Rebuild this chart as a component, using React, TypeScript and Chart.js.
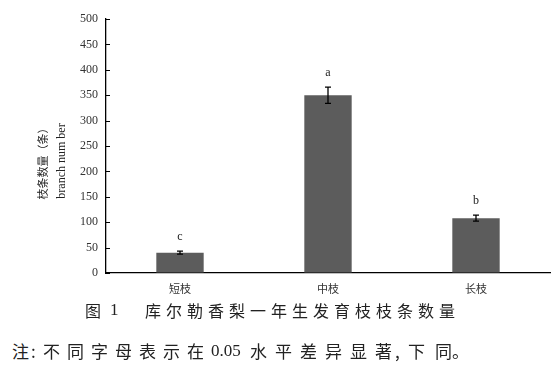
import React, { useEffect, useRef } from "react";
import { Chart, registerables } from "chart.js";

Chart.register(...registerables);

const categories = ["短枝", "中枝", "长枝"];
const means = [40, 350, 108];
const errors = [3, 16, 6];
const letters = ["c", "a", "b"];
const yTicks = [0, 50, 100, 150, 200, 250, 300, 350, 400, 450, 500];
const yTitleCn = "枝条数量（条）";
const yTitleEn = "branch num ber";
const captionLabel = "图";
const captionNum = "1";
const captionMain = "库尔勒香梨一年生发育枝枝条数量";
const noteParts = ["注", ":", "不同字母表示在", "0.05", "水平差异显著", ",", "下同", "。"];

const extrasPlugin = {
  id: "extras",
  afterDatasetsDraw(chart: any) {
    const ctx = chart.ctx;
    const x = chart.scales.x;
    const y = chart.scales.y;
    const area = chart.chartArea;
    ctx.save();
    ctx.strokeStyle = "#000";
    ctx.lineWidth = 1;
    yTicks.forEach((v) => {
      const py = Math.round(y.getPixelForValue(v)) + 0.5;
      ctx.beginPath();
      ctx.moveTo(area.left, py);
      ctx.lineTo(area.left + 4, py);
      ctx.stroke();
    });
    means.forEach((m, i) => {
      const cx = x.getPixelForValue(i);
      const top = y.getPixelForValue(m + errors[i]);
      const bot = y.getPixelForValue(m - errors[i]);
      ctx.strokeStyle = "#000";
      ctx.lineWidth = 1.3;
      ctx.beginPath();
      ctx.moveTo(cx, top);
      ctx.lineTo(cx, bot);
      ctx.moveTo(cx - 3, top);
      ctx.lineTo(cx + 3, top);
      ctx.moveTo(cx - 3, bot);
      ctx.lineTo(cx + 3, bot);
      ctx.stroke();
      ctx.fillStyle = "#222";
      ctx.font = "12px 'Liberation Serif'";
      ctx.textAlign = "center";
      ctx.textBaseline = "middle";
      ctx.fillText(letters[i], cx, top - 14);
    });
    const cy = (area.top + area.bottom) / 2 + 15;
    ctx.fillStyle = "#222";
    ctx.translate(43, cy);
    ctx.rotate(-Math.PI / 2);
    ctx.font = "11px 'Noto Sans CJK SC'";
    ctx.textAlign = "center";
    ctx.textBaseline = "middle";
    ctx.fillText(yTitleCn, 0, 0);
    ctx.font = "12px 'Liberation Serif'";
    ctx.fillText(yTitleEn, 0, 19);
    ctx.restore();
  },
};

export default function App() {
  const ref = useRef<HTMLCanvasElement | null>(null);
  useEffect(() => {
    if (!ref.current) return;
    const chart = new Chart(ref.current, {
      type: "bar",
      data: {
        labels: categories,
        datasets: [
          {
            data: means,
            backgroundColor: "#5c5c5c",
            borderWidth: 0,
            barPercentage: 0.32,
            categoryPercentage: 1,
          },
        ],
      },
      options: {
        animation: false,
        responsive: false,
        maintainAspectRatio: false,
        layout: { padding: { top: 19, right: 8, left: 0, bottom: 0 } },
        plugins: {
          legend: { display: false },
          tooltip: { enabled: false },
          title: { display: false },
        },
        scales: {
          x: {
            grid: { drawOnChartArea: false, drawTicks: false },
            border: { display: true, color: "#000", width: 1.3 },
            ticks: {
              padding: 9,
              color: "#333",
              font: { family: "'Noto Sans CJK SC'", size: 11 },
            },
            afterFit: (s: any) => {
              s.height = 27;
            },
          },
          y: {
            min: 0,
            max: 500,
            grid: { drawOnChartArea: false, drawTicks: false },
            border: { display: true, color: "#000", width: 1.3 },
            ticks: {
              stepSize: 50,
              padding: 8,
              color: "#333",
              font: { family: "'Liberation Serif'", size: 12 },
            },
            afterFit: (s: any) => {
              s.width = 106;
            },
          },
        },
      },
      plugins: [extrasPlugin],
    });
    return () => chart.destroy();
  }, []);

  const cn = "'Noto Sans CJK SC', sans-serif";
  const serif = "'Liberation Serif', serif";
  const base: React.CSSProperties = { position: "absolute", color: "#222", whiteSpace: "nowrap" };
  const noteStyle = (left: number, font: string, spacing: number): React.CSSProperties => ({
    ...base,
    left,
    top: 341,
    fontFamily: font,
    fontSize: 17,
    lineHeight: "19px",
    letterSpacing: spacing + "px",
  });
  const noteLefts = [12, 31, 43, 211, 250, 395, 408, 452];
  const noteFonts = [cn, cn, cn, serif, cn, cn, cn, cn];
  const noteSpacing = [0, 0, 7, 0, 8, 0, 10, 0];
  return (
    <div style={{ position: "absolute", left: 0, top: 0, width: 558, height: 367, background: "#fff", overflow: "hidden" }}>
      <canvas ref={ref} width={558} height={300} style={{ position: "absolute", left: 0, top: 0, width: 558, height: 300 }} />
      <div style={{ ...base, left: 85, top: 301, fontFamily: cn, fontSize: 16, lineHeight: "18px" }}>{captionLabel}</div>
      <div style={{ ...base, left: 110, top: 301, fontFamily: serif, fontSize: 17, lineHeight: "18px" }}>{captionNum}</div>
      <div style={{ ...base, left: 145, top: 301, fontFamily: cn, fontSize: 16, lineHeight: "18px", letterSpacing: "5px" }}>
        {captionMain}
      </div>
      {noteParts.map((t, i) => (
        <div key={i} style={noteStyle(noteLefts[i], noteFonts[i], noteSpacing[i])}>
          {t}
        </div>
      ))}
    </div>
  );
}
